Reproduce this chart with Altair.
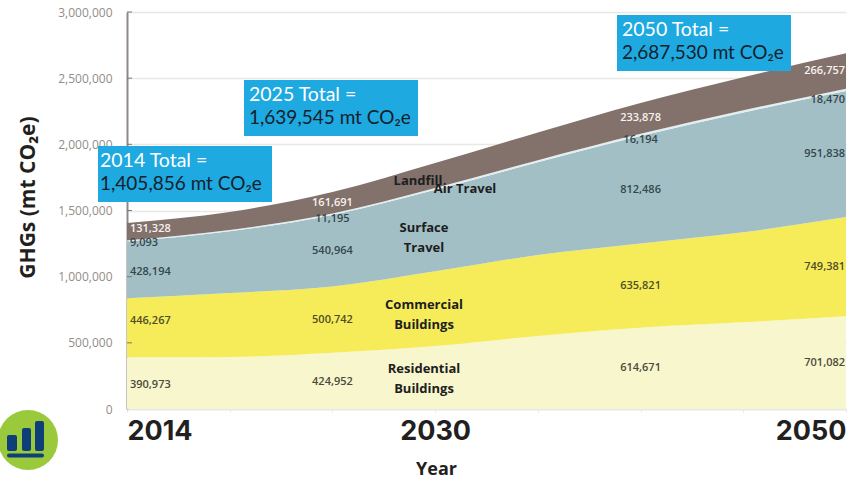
import altair as alt
import pandas as pd

# Emissions by sector (mt CO2e); the 2014, 2025, 2040 and 2050 columns are the published figures
years = [2014, 2020, 2025, 2030, 2035, 2040, 2045, 2050]
residential = [390973, 393000, 424952, 476000, 552000, 614671, 655000, 701082]
commercial = [446267, 483000, 500742, 564000, 612000, 635821, 680000, 749381]
surface = [428194, 467000, 540964, 617000, 701000, 812486, 905000, 951838]
air = [9093, 10000, 11195, 13000, 15000, 16194, 17500, 18470]
landfill = [131328, 136000, 161691, 189000, 210000, 233878, 250000, 266757]

sector_names = ["Residential", "Commercial", "Surface", "Air", "Landfill"]
sector_values = [residential, commercial, surface, air, landfill]
sector_colors = ["#f8f6cd", "#f6ec5a", "#a2bfc5", "#e3eef0", "#83716b"]
label_colors = ["#4a4a3c", "#4f4c28", "#33474c", "#33474c", "#f7f3f0"]

# Small vertical shifts (mt CO2e) that keep value labels clear of band edges
label_shift = {
    (2014, "Residential"): -15000, (2014, "Commercial"): 51000, (2014, "Surface"): -15000,
    (2014, "Air"): -15000, (2014, "Landfill"): 20000,
    (2025, "Residential"): -8000, (2025, "Air"): -38000,
    (2040, "Air"): -38000, (2050, "Air"): -75000,
}

rows = []
for i, year in enumerate(years):
    base = 0
    for name, values, text_color in zip(sector_names, sector_values, label_colors):
        top = base + values[i]
        rows.append({
            "year": year, "sector": name, "value": values[i], "y0": base, "y1": top,
            "label_y": (base + top) / 2 + label_shift.get((year, name), 0),
            "label": f"{values[i]:,}", "text_color": text_color,
        })
        base = top
table = pd.DataFrame(rows)
tick_frame = pd.DataFrame({"v": [500000, 1000000, 1500000, 2000000, 2500000, 3000000]})

x_scale = alt.Scale(type="point", padding=0)
y_scale = alt.Scale(domain=[0, 3000000], nice=False)
x_axis = alt.Axis(
    labelExpr="datum.value == 2014 || datum.value == 2030 || datum.value == 2050 ? datum.label : ''",
    labelAngle=0, labelFont="Inter", labelFontSize=27, labelFontWeight=700, labelColor="#231f20",
    labelFlush=True, labelPadding=6, labelOverlap=False,
    domainColor="#e9e7e1", domainWidth=1.5, tickColor="#e9e7e1", tickSize=3, grid=False,
    titleFont="Open Sans", titleFontSize=18, titleFontWeight="bold", titleColor="#231f20",
    titleX=309, titleY=51,
)
y_axis = alt.Axis(
    values=[0, 500000, 1000000, 1500000, 2000000, 2500000, 3000000], format=",.0f",
    labelFont="Open Sans", labelFontSize=12, labelColor="#938c88", labelPadding=15, tickSize=0,
    domainColor="#8f8a88", domainWidth=2, gridColor="#ebe7e5", gridWidth=1.5,
    titleFont="Open Sans", titleFontSize=21, titleFontWeight="bold", titleColor="#231f20",
    titleX=-89, titleY=185,
)
x_enc = alt.X("year:O", title="Year", scale=x_scale, axis=x_axis)


def y_enc(field):
    return alt.Y(field, title="GHGs (mt CO₂e)", scale=y_scale, axis=y_axis)


areas = alt.Chart(table).mark_area(interpolate="monotone").encode(
    x=x_enc, y=y_enc("y1:Q"), y2="y0:Q",
    color=alt.Color("sector:N", scale=alt.Scale(domain=sector_names, range=sector_colors), legend=None),
)

# Short inward ticks on the value axis
axis_ticks = alt.Chart(tick_frame).mark_rule(color="#7d7674", strokeWidth=1).encode(
    y=y_enc("v:Q"), x=alt.value(0), x2=alt.value(5),
)


def value_labels(year, align, dx):
    subset = table[table.year == year]
    return alt.Chart(subset).mark_text(
        font="Open Sans", fontSize=11, fontWeight=600, align=align, dx=dx, baseline="middle",
    ).encode(
        x=x_enc, y=y_enc("label_y:Q"), text="label:N", color=alt.Color("text_color:N", scale=None),
    )


layers = [
    areas, axis_ticks,
    value_labels(2014, "left", 3), value_labels(2025, "center", 0),
    value_labels(2040, "center", 0), value_labels(2050, "right", -1),
]


def placed_text(text, px, py, **style):
    return alt.Chart(pd.DataFrame({"t": [text]})).mark_text(baseline="middle", **style).encode(
        x=alt.value(px), y=alt.value(py), text="t:N",
    )


def placed_rect(left, right, top, bottom, color, radius=0):
    return alt.Chart(pd.DataFrame({"t": [0]})).mark_rect(color=color, cornerRadius=radius).encode(
        x=alt.value(left), x2=alt.value(right), y=alt.value(top), y2=alt.value(bottom),
    )


# Sector names set inside the bands
sector_style = dict(font="Open Sans", fontSize=13, fontWeight="bold", color="#1c2020",
                    lineBreak="\n", lineHeight=20, align="center")
layers += [
    placed_text("Landfill", 291, 169, **sector_style),
    placed_text("Air Travel", 338, 177, **sector_style),
    placed_text("Surface\nTravel", 297, 216, **sector_style),
    placed_text("Commercial\nBuildings", 297, 293, **sector_style),
    placed_text("Residential\nBuildings", 297, 357, **sector_style),
]

# Total callouts
callout_heads = ["2014 Total =", "2025 Total =", "2050 Total ="]
callout_totals = ["1,405,856 mt CO₂e", "1,639,545 mt CO₂e", "2,687,530 mt CO₂e"]
callout_boxes = [(-29, 145, 134, 190, -27), (117, 291, 68, 124, 122), (490, 664, 3, 59, 495)]
for head, total, (left, right, top, bottom, text_x) in zip(callout_heads, callout_totals, callout_boxes):
    layers += [
        placed_rect(left, right, top, bottom, "#1ea9e1"),
        placed_text(head, text_x, top + 15, font="Lato", fontSize=19.5, color="#ffffff", align="left"),
        placed_text(total, text_x, top + 38, font="Lato", fontSize=19, color="#14212b", align="left"),
    ]

# Round badge with a small bar-chart glyph, lower left
badge = alt.Chart(pd.DataFrame({"t": [0]})).mark_point(
    filled=True, shape="circle", size=3600, color="#9aca3c", opacity=1,
).encode(x=alt.value(-99), y=alt.value(428))
layers += [
    badge,
    placed_rect(-120, -110, 423, 439, "#0f3f78", 2),
    placed_rect(-105, -96, 416, 439, "#0f3f78", 2),
    placed_rect(-92, -83, 409, 439, "#0f3f78", 2),
    placed_rect(-120, -83, 441.5, 445.5, "#0f3f78", 2),
]

chart = alt.layer(*layers).properties(
    width=719, height=397,
    padding={"left": 127, "top": 12, "right": 16, "bottom": 71},
    autosize=alt.AutoSizeParams(type="none"),
).configure_view(stroke=None)

chart.save("out.html", embed_options={"renderer": "svg", "actions": False})
